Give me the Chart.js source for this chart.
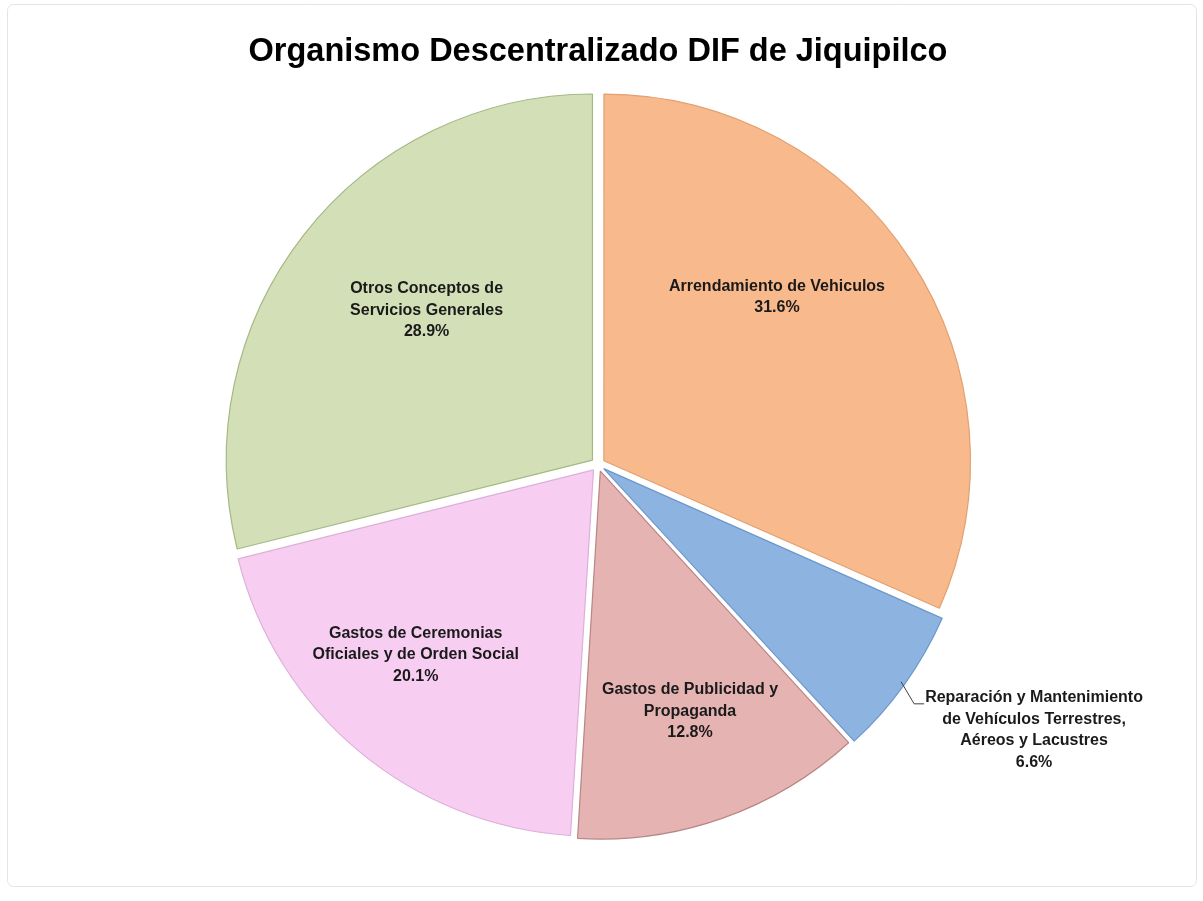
<!DOCTYPE html>
<html>
<head>
<meta charset="utf-8">
<script src="https://cdn.jsdelivr.net/npm/chart.js@4.4.1/dist/chart.umd.min.js"></script>
<style>
  html, body { margin: 0; padding: 0; background: #ffffff; }
  #wrap { position: relative; width: 1203px; height: 901px; }
</style>
</head>
<body>
<div id="wrap"><canvas id="c"></canvas></div>
<script>
// ---- Data ----
const chartTitle = "Organismo Descentralizado DIF de Jiquipilco";
const categories = [
  ["Arrendamiento de Vehiculos"],
  ["Reparación y Mantenimiento", "de Vehículos Terrestres,", "Aéreos y Lacustres"],
  ["Gastos de Publicidad y", "Propaganda"],
  ["Gastos de Ceremonias", "Oficiales y de Orden Social"],
  ["Otros Conceptos de", "Servicios Generales"]
];
const values = [31.6, 6.6, 12.8, 20.1, 28.9];

// ---- Style ----
const fillColors = ["#F8B98C", "#8DB3E0", "#E6B3B3", "#F7CEF2", "#D3DFB6"];
const edgeColors = ["#E3A070", "#6D98CC", "#B98585", "#DDB0D8", "#A6B884"];
const labelOutside = [false, true, false, false, false];
const labelRadiusFrac = [0.67, 1, 0.72, 0.72, 0.63];
const labelAngleShiftDeg = [-10, 0, -1, 4, 4];
const explodeOffset = 28; // Chart.js translates arcs by offset/4 px

const labelPlugin = {
  id: 'sliceLabels',
  afterDatasetsDraw(chart) {
    const ctx = chart.ctx;
    const meta = chart.getDatasetMeta(0);
    ctx.save();
    ctx.font = "bold 16px 'Liberation Sans', Arial, sans-serif";
    ctx.fillStyle = "#1a1a1a";
    ctx.textAlign = "center";
    ctx.textBaseline = "middle";
    const lh = 21.5;
    meta.data.forEach((arc, i) => {
      const p = arc.getProps(['x', 'y', 'startAngle', 'endAngle', 'outerRadius'], true);
      const mid = (p.startAngle + p.endAngle) / 2;
      const off = explodeOffset / 4;
      const lines = categories[i].concat([values[i].toFixed(1) + "%"]);
      if (!labelOutside[i]) {
        const a = mid + labelAngleShiftDeg[i] * Math.PI / 180;
        const r = p.outerRadius * labelRadiusFrac[i];
        const cx = p.x + Math.cos(a) * r;
        const cy = p.y + Math.sin(a) * r;
        const y0 = cy - (lines.length - 1) * lh / 2;
        lines.forEach((t, k) => ctx.fillText(t, cx, y0 + k * lh));
      } else {
        const sx = p.x + Math.cos(mid) * (p.outerRadius + off);
        const sy = p.y + Math.sin(mid) * (p.outerRadius + off);
        const ex = sx + 13, ey = sy + 22;
        const hx = ex + 10;
        ctx.strokeStyle = "#404040";
        ctx.lineWidth = 1;
        ctx.beginPath();
        ctx.moveTo(sx, sy);
        ctx.lineTo(ex, ey);
        ctx.lineTo(hx, ey);
        ctx.stroke();
        let w = 0;
        lines.forEach(t => { w = Math.max(w, ctx.measureText(t).width); });
        const cx = hx + 1 + w / 2;
        lines.forEach((t, k) => ctx.fillText(t, cx, ey - 6 + k * lh));
      }
    });
    ctx.restore();
  }
};

const framePlugin = {
  id: 'frame',
  beforeDraw(chart) {
    const ctx = chart.ctx;
    ctx.save();
    ctx.strokeStyle = "#e4e4e4";
    ctx.lineWidth = 1;
    ctx.beginPath();
    ctx.roundRect(7.5, 4.5, 1189, 882, 6);
    ctx.stroke();
    ctx.restore();
  }
};

new Chart(document.getElementById('c'), {
  type: 'pie',
  data: {
    labels: categories.map(c => c.join(' ')),
    datasets: [{
      data: values,
      backgroundColor: fillColors,
      borderColor: edgeColors,
      borderWidth: 1.2,
      offset: explodeOffset
    }]
  },
  options: {
    responsive: true,
    maintainAspectRatio: false,
    animation: false,
    radius: 366,
    layout: { padding: { left: 0, right: 7, top: 0, bottom: 54 } },
    plugins: {
      legend: { display: false },
      tooltip: { enabled: false },
      title: {
        display: true,
        text: chartTitle,
        color: "#000000",
        font: { family: "'Liberation Sans', Arial, sans-serif", size: 32.5, weight: 'bold', lineHeight: 1.2 },
        padding: { top: 33, bottom: 10 }
      }
    }
  },
  plugins: [framePlugin, labelPlugin]
});
</script>
</body>
</html>
